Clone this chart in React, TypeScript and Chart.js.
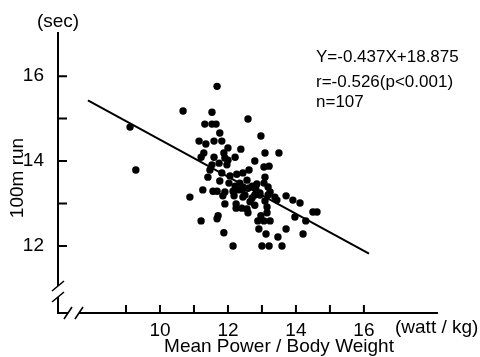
import React, { useEffect, useRef } from "react";
import { Chart, registerables } from "chart.js";

Chart.register(...registerables);

// Mean power / body weight (watt/kg)
const powerX: number[] = [
  9.12, 9.29, 10.68, 11.68, 11.53, 12.59, 11.32, 11.53, 11.65, 11.76,
  11.15, 11.35, 11.59, 11.82, 12.97, 11.29, 12.0, 12.38, 13.09, 13.5,
  11.21, 11.59, 11.88, 11.91, 12.21, 12.79, 11.53, 11.74, 11.97, 13.06,
  13.21, 12.62, 11.82, 12.26, 12.44, 11.41, 11.76, 12.03, 12.35, 12.56,
  12.71, 13.09, 13.06, 12.21, 12.44, 12.85, 11.26, 11.56, 11.68, 11.91,
  12.15, 12.41, 12.59, 12.82, 13.18, 13.24, 12.94, 10.88, 11.85, 12.18,
  12.44, 12.71, 12.79, 12.94, 13.18, 13.38, 13.71, 13.91, 14.12, 11.91,
  12.24, 12.65, 13.09, 13.44, 12.24, 12.41, 12.56, 13.15, 13.15, 12.59,
  14.5, 14.62, 11.71, 11.68, 12.97, 13.97, 11.21, 12.88, 13.06, 13.24,
  14.29, 12.91, 13.71, 11.88, 13.12, 13.47, 14.21, 12.15, 13.0, 13.21,
  13.59, 11.47, 12.06, 12.5, 12.29, 12.79, 12.0,
];

// 100 m run time (sec)
const runY: number[] = [
  14.8, 13.79, 15.18, 15.76, 15.15, 14.99, 14.87, 14.87, 14.87, 14.66,
  14.47, 14.4, 14.47, 14.47, 14.59, 14.19, 14.31, 14.28, 14.19, 14.19,
  14.09, 14.09, 14.19, 14.07, 14.09, 14.0, 13.91, 13.95, 13.91, 13.86,
  13.88, 13.79, 13.72, 13.69, 13.72, 13.62, 13.53, 13.48, 13.48, 13.55,
  13.41, 13.62, 13.48, 13.41, 13.39, 13.46, 13.32, 13.29, 13.29, 13.27,
  13.29, 13.32, 13.36, 13.34, 13.39, 13.27, 13.25, 13.15, 13.18, 13.18,
  13.15, 13.13, 13.2, 13.2, 13.2, 13.15, 13.18, 13.08, 13.01, 12.99,
  12.99, 13.04, 13.06, 13.08, 12.89, 12.89, 12.87, 12.92, 12.78, 12.78,
  12.8, 12.8, 12.71, 12.64, 12.71, 12.68, 12.59, 12.59, 12.59, 12.59,
  12.59, 12.4, 12.4, 12.31, 12.28, 12.21, 12.28, 12.0, 12.0, 12.0,
  12.0, 13.79, 13.65, 13.2, 13.32, 12.96, 14.02,
];

// Regression: Y = -0.437X + 18.875, drawn over this X range
const regSlope = -0.437;
const regIntercept = 18.875;
const regRange: number[] = [7.88, 16.15];

const xTicks: number[] = [9, 10, 11, 12, 13, 14, 15, 16];
const xLabelled: number[] = [10, 12, 14, 16];
const yTicks: number[] = [12, 13, 14, 15, 16];
const yLabelled: number[] = [12, 14, 16];

const X_MIN = 7;
const X_MAX = 18.18;
const Y_MIN = 10.42;
const Y_MAX = 17.04;

const annotationLines: string[] = [
  "Y=-0.437X+18.875",
  "r=-0.526(p<0.001)",
  "n=107",
];

const FONT = "'Liberation Sans', Arial, sans-serif";

const decorPlugin = {
  id: "decor",
  afterDraw(chart: any) {
    const ctx = chart.ctx as CanvasRenderingContext2D;
    const xs = chart.scales.x;
    const ys = chart.scales.y;
    const x0 = xs.getPixelForValue(X_MIN);
    const xr = xs.getPixelForValue(X_MAX);
    const yb = ys.getPixelForValue(Y_MIN);
    const yt = ys.getPixelForValue(Y_MAX);
    ctx.save();
    ctx.strokeStyle = "#000";
    ctx.fillStyle = "#000";
    ctx.lineWidth = 2;
    ctx.lineCap = "butt";
    // y axis with break
    const yb1 = yb - 27;
    const yb2 = yb - 16;
    ctx.beginPath();
    ctx.moveTo(x0, yt);
    ctx.lineTo(x0, yb1);
    ctx.moveTo(x0, yb2);
    ctx.lineTo(x0, yb);
    // x axis with break
    const xb1 = x0 + 10;
    const xb2 = x0 + 21;
    ctx.moveTo(x0 - 1, yb);
    ctx.lineTo(xb1, yb);
    ctx.moveTo(xb2, yb);
    ctx.lineTo(xr, yb);
    ctx.stroke();
    // break slashes
    ctx.lineWidth = 1.6;
    ctx.beginPath();
    for (const yy of [yb1, yb2]) {
      ctx.moveTo(x0 - 6, yy + 5);
      ctx.lineTo(x0 + 6, yy - 5);
    }
    for (const xx of [xb1, xb2]) {
      ctx.moveTo(xx - 4, yb + 6);
      ctx.lineTo(xx + 4, yb - 6);
    }
    ctx.stroke();
    // tick marks (inward)
    ctx.lineWidth = 2;
    ctx.beginPath();
    for (const t of ys.ticks) {
      const y = ys.getPixelForValue(t.value);
      ctx.moveTo(x0, y);
      ctx.lineTo(x0 + 9, y);
    }
    for (const t of xs.ticks) {
      const x = xs.getPixelForValue(t.value);
      ctx.moveTo(x, yb);
      ctx.lineTo(x, yb - 8);
    }
    ctx.stroke();
    // texts
    ctx.textBaseline = "middle";
    ctx.font = `19px ${FONT}`;
    ctx.textAlign = "center";
    ctx.fillText("(sec)", x0, 22);
    ctx.fillText("Mean Power / Body Weight", 279, 347);
    ctx.textAlign = "left";
    ctx.fillText("(watt / kg)", 395, 328);
    ctx.save();
    ctx.translate(18, 178);
    ctx.rotate(-Math.PI / 2);
    ctx.textAlign = "center";
    ctx.fillText("100m run", 0, 0);
    ctx.restore();
    ctx.font = `17px ${FONT}`;
    ctx.textAlign = "left";
    const ys2 = [57, 82, 102];
    annotationLines.forEach((s, i) => ctx.fillText(s, 316, ys2[i]));
    ctx.restore();
  },
};

export default function App() {
  const ref = useRef<HTMLCanvasElement | null>(null);
  useEffect(() => {
    if (!ref.current) return;
    const points = powerX.map((x, i) => ({ x, y: runY[i] }));
    const line = regRange.map((x) => ({ x, y: regSlope * x + regIntercept }));
    const chart = new Chart(ref.current, {
      type: "scatter",
      data: {
        datasets: [
          {
            type: "line",
            data: line,
            borderColor: "#000",
            borderWidth: 2,
            pointRadius: 0,
            showLine: true,
            fill: false,
          } as any,
          {
            data: points,
            backgroundColor: "#000",
            borderWidth: 0,
            pointRadius: 3.7,
          },
        ],
      },
      options: {
        animation: false,
        responsive: false,
        devicePixelRatio: 1,
        layout: { padding: { top: 32, right: 42, left: 0, bottom: 0 } },
        plugins: { legend: { display: false }, tooltip: { enabled: false } },
        scales: {
          x: {
            type: "linear",
            min: X_MIN,
            max: X_MAX,
            grid: { display: false },
            border: { display: false },
            afterBuildTicks: (s: any) => {
              s.ticks = xTicks.map((v) => ({ value: v }));
            },
            afterFit: (s: any) => {
              s.height = 44;
            },
            ticks: {
              autoSkip: false,
              maxRotation: 0,
              padding: -2,
              color: "#000",
              font: { family: FONT, size: 19 },
              callback: (v: any) => (xLabelled.includes(Number(v)) ? String(v) : ""),
            },
          },
          y: {
            type: "linear",
            min: Y_MIN,
            max: Y_MAX,
            grid: { display: false },
            border: { display: false },
            afterBuildTicks: (s: any) => {
              s.ticks = yTicks.map((v) => ({ value: v }));
            },
            afterFit: (s: any) => {
              s.width = 58;
            },
            ticks: {
              autoSkip: false,
              padding: 6,
              color: "#000",
              font: { family: FONT, size: 19 },
              callback: (v: any) => (yLabelled.includes(Number(v)) ? String(v) : ""),
            },
          },
        },
      },
      plugins: [decorPlugin],
    });
    return () => chart.destroy();
  }, []);
  return (
    <div style={{ position: "absolute", left: 0, top: 0, width: 480, height: 357, background: "#fff" }}>
      <canvas ref={ref} width={480} height={357} />
    </div>
  );
}
